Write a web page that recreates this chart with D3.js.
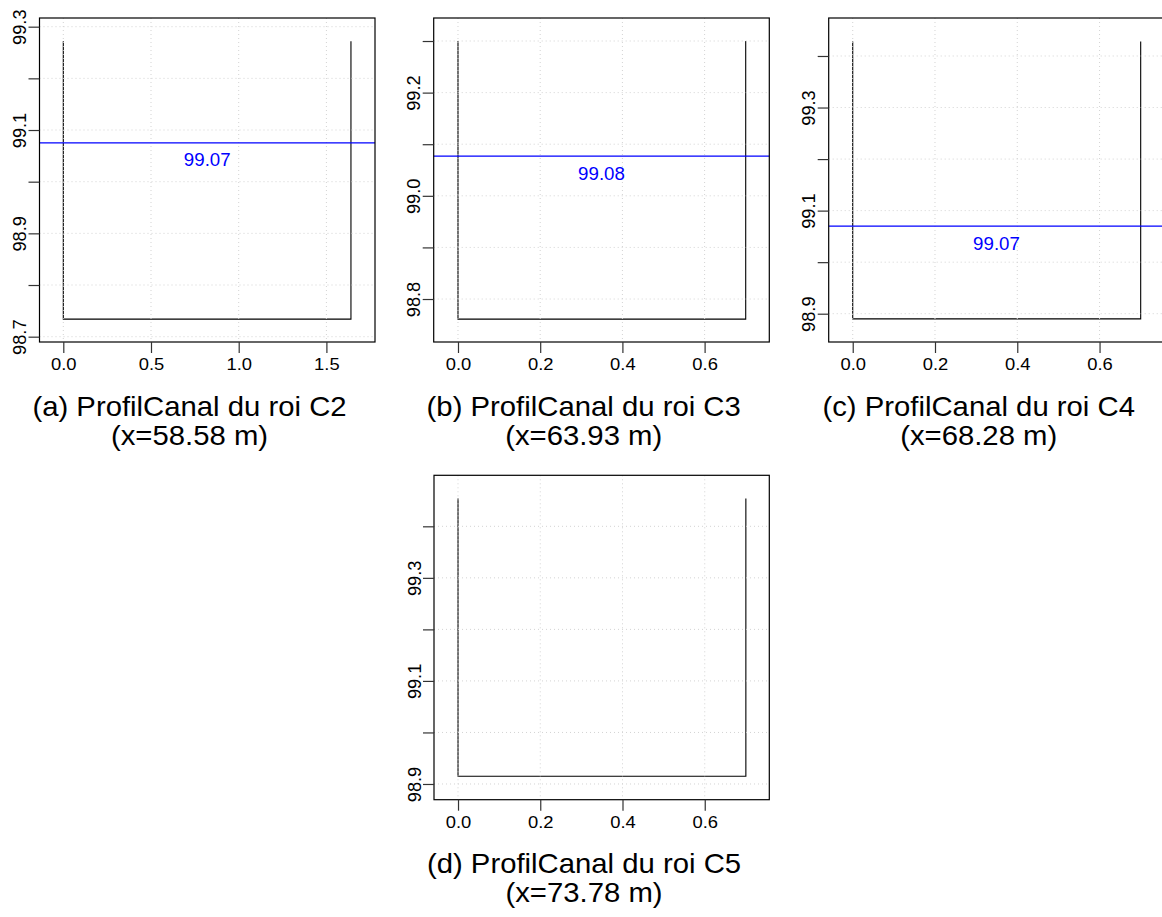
<!DOCTYPE html>
<html>
<head>
<meta charset="utf-8">
<script src="https://cdn.jsdelivr.net/npm/d3@7"></script>
<style>
  html, body { margin: 0; padding: 0; background: #fff; }
  svg { display: block; font-family: "Liberation Sans", Arial, Helvetica, sans-serif; }
</style>
</head>
<body>
<svg id="chart" width="1162" height="917"></svg>
<script>
// ---------------- data ----------------
const captionTitles    = ["(a) ProfilCanal du roi C2", "(b) ProfilCanal du roi C3", "(c) ProfilCanal du roi C4", "(d) ProfilCanal du roi C5"];
const captionPositions = ["(x=58.58 m)", "(x=63.93 m)", "(x=68.28 m)", "(x=73.78 m)"];
const channelWidths    = [1.64, 0.70, 0.70, 0.70];
const wallTops         = [99.272, 99.300, 99.428, 99.454];
const bedLevels        = [98.734, 98.761, 98.890, 98.915];
const waterLevels      = [99.075, 99.077, 99.070, null];
const waterLabels      = ["99.07", "99.08", "99.07", null];
const xTickValues      = [[0, 0.5, 1.0, 1.5], [0, 0.2, 0.4, 0.6], [0, 0.2, 0.4, 0.6], [0, 0.2, 0.4, 0.6]];
const yTickValues      = [
  [98.7, 98.8, 98.9, 99.0, 99.1, 99.2, 99.3],
  [98.8, 98.9, 99.0, 99.1, 99.2, 99.3],
  [98.9, 99.0, 99.1, 99.2, 99.3, 99.4],
  [98.9, 99.0, 99.1, 99.2, 99.3, 99.4]
];
const yTickLabels      = [
  ["98.7", "98.9", "99.1", "99.3"],
  ["98.8", "99.0", "99.2"],
  ["98.9", "99.1", "99.3"],
  ["98.9", "99.1", "99.3"]
];

// ---------------- layout ----------------
const boxes = [
  { left: 39.5,  right: 375,    top: 18,    bottom: 342,   xDom: [-0.1357, 1.7771], yDom: [98.6897, 99.3168] },
  { left: 433.7, right: 769.3,  top: 18,    bottom: 342,   xDom: [-0.0591, 0.7574], yDom: [98.7167, 99.3446] },
  { left: 828.7, right: 1164.3, top: 18,    bottom: 342,   xDom: [-0.0584, 0.7574], yDom: [98.8451, 99.4737] },
  { left: 434,   right: 769.3,  top: 475.3, bottom: 799.7, xDom: [-0.0584, 0.7570], yDom: [98.8695, 99.4990] }
];
const SQ = 0.93;
const tickFont = 18.4;
const capFont = 29.3;

const svg = d3.select("#chart");
svg.append("rect").attr("width", 1162).attr("height", 917).attr("fill", "#fff");

boxes.forEach((b, i) => {
  const x = d3.scaleLinear().domain(b.xDom).range([b.left, b.right]);
  const y = d3.scaleLinear().domain(b.yDom).range([b.bottom, b.top]);
  const g = svg.append("g");

  // profile (drawn first, grid overlays it as in R)
  const W = channelWidths[i];
  const pts = [[0, wallTops[i]], [0, bedLevels[i]], [W, bedLevels[i]], [W, wallTops[i]]];
  g.append("path")
    .attr("d", d3.line().x(d => x(d[0])).y(d => y(d[1]))(pts))
    .attr("fill", "none").attr("stroke", "#000").attr("stroke-width", 1.1);

  // grid
  const grid = g.append("g").attr("stroke", "#d3d3d3").attr("stroke-width", 1).attr("stroke-dasharray", "1,3");
  xTickValues[i].forEach(v => {
    grid.append("line").attr("x1", x(v)).attr("x2", x(v)).attr("y1", b.top).attr("y2", b.bottom);
  });
  yTickValues[i].forEach(v => {
    grid.append("line").attr("x1", b.left).attr("x2", b.right).attr("y1", y(v)).attr("y2", y(v));
  });

  // water level
  if (waterLevels[i] !== null) {
    g.append("line")
      .attr("x1", b.left).attr("x2", b.right)
      .attr("y1", y(waterLevels[i])).attr("y2", y(waterLevels[i]))
      .attr("stroke", "#0000ff").attr("stroke-width", 1.2);
    g.append("text")
      .attr("x", (b.left + b.right) / 2)
      .attr("y", y(waterLevels[i]) + 23.5)
      .attr("text-anchor", "middle")
      .attr("fill", "#0000ff")
      .attr("font-size", 18.7)
      .text(waterLabels[i]);
  }

  // box
  g.append("rect")
    .attr("x", b.left).attr("y", b.top)
    .attr("width", b.right - b.left).attr("height", b.bottom - b.top)
    .attr("fill", "none").attr("stroke", "#000").attr("stroke-width", 1.2);

  // x axis
  const xa = g.append("g").attr("transform", `translate(0,${b.bottom})`)
    .call(d3.axisBottom(x).tickValues(xTickValues[i]).tickSize(11).tickSizeOuter(0).tickFormat(d3.format(".1f")));
  xa.attr("font-family", null).attr("font-size", null);
  xa.select(".domain").remove();
  xa.selectAll(".tick line").attr("stroke", "#333").attr("stroke-width", 1.2);
  xa.selectAll(".tick text")
    .attr("y", null).attr("dy", null)
    .attr("transform", `translate(0,28) scale(1,${SQ})`)
    .attr("font-size", tickFont).attr("fill", "#000");

  // y axis
  const labSet = new Set(yTickLabels[i]);
  const fmt = d3.format(".1f");
  const ya = g.append("g").attr("transform", `translate(${b.left},0)`)
    .call(d3.axisLeft(y).tickValues(yTickValues[i]).tickSize(11).tickSizeOuter(0)
      .tickFormat(d => labSet.has(fmt(d)) ? fmt(d) : ""));
  ya.attr("font-family", null).attr("font-size", null);
  ya.select(".domain").remove();
  ya.selectAll(".tick line").attr("stroke", "#333").attr("stroke-width", 1.2);
  ya.selectAll(".tick text")
    .attr("x", null).attr("dy", null)
    .attr("text-anchor", "middle")
    .attr("transform", `translate(-13.5,0) rotate(-90)`)
    .attr("font-size", 18.2).attr("fill", "#000");

  // caption
  const cx = b.left + 150;
  g.append("text")
    .attr("text-anchor", "middle")
    .attr("transform", `translate(${cx},${b.bottom + 73.5}) scale(1,${SQ})`)
    .attr("font-size", capFont).attr("fill", "#000")
    .text(captionTitles[i]);
  g.append("text")
    .attr("text-anchor", "middle")
    .attr("transform", `translate(${cx},${b.bottom + 102.5}) scale(1,${SQ})`)
    .attr("font-size", capFont).attr("fill", "#000")
    .text(captionPositions[i]);
});
</script>
</body>
</html>
